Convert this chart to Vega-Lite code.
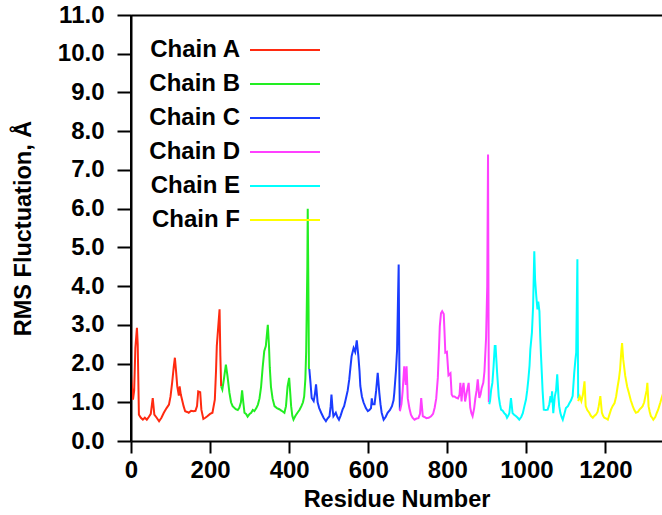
{
  "$schema": "https://vega.github.io/schema/vega-lite/v6.json",
  "autosize": {"type": "none"},
  "padding": {"left": 131, "top": 15, "right": 0, "bottom": 74},
  "width": 531,
  "height": 426,
  "background": "white",
  "config": {
    "view": {"stroke": null},
    "axis": {
      "grid": false,
      "domainColor": "black",
      "domainWidth": 2,
      "tickColor": "black",
      "tickWidth": 2,
      "labelFont": "Liberation Sans",
      "labelFontWeight": "bold",
      "labelFontSize": 24,
      "labelColor": "black",
      "labelOverlap": false,
      "titleFont": "Liberation Sans",
      "titleFontWeight": "bold",
      "titleFontSize": 23.5,
      "titleColor": "black"
    },
    "legend": {
      "labelFont": "Liberation Sans",
      "labelFontWeight": "bold",
      "labelFontSize": 24,
      "labelColor": "black"
    }
  },
  "resolve": {"axis": {"x": "independent"}},
  "data": {
    "values": [
      {"chain":"Chain A","res":0,"rmsf":1.72},{"chain":"Chain A","res":5,"rmsf":1.07},{"chain":"Chain A","res":8,"rmsf":1.3},{"chain":"Chain A","res":11,"rmsf":2.4},{"chain":"Chain A","res":15,"rmsf":2.92},{"chain":"Chain A","res":17,"rmsf":2.5},{"chain":"Chain A","res":20,"rmsf":0.68},{"chain":"Chain A","res":25,"rmsf":0.6},{"chain":"Chain A","res":30,"rmsf":0.55},{"chain":"Chain A","res":35,"rmsf":0.6},{"chain":"Chain A","res":40,"rmsf":0.55},{"chain":"Chain A","res":45,"rmsf":0.62},{"chain":"Chain A","res":50,"rmsf":0.7},{"chain":"Chain A","res":55,"rmsf":1.11},{"chain":"Chain A","res":59,"rmsf":0.68},{"chain":"Chain A","res":65,"rmsf":0.6},{"chain":"Chain A","res":71,"rmsf":0.51},{"chain":"Chain A","res":77,"rmsf":0.6},{"chain":"Chain A","res":83,"rmsf":0.73},{"chain":"Chain A","res":90,"rmsf":0.85},{"chain":"Chain A","res":96,"rmsf":0.94},{"chain":"Chain A","res":100,"rmsf":1.15},{"chain":"Chain A","res":104,"rmsf":1.5},{"chain":"Chain A","res":108,"rmsf":1.9},{"chain":"Chain A","res":111,"rmsf":2.15},{"chain":"Chain A","res":114,"rmsf":1.8},{"chain":"Chain A","res":117,"rmsf":1.41},{"chain":"Chain A","res":121,"rmsf":1.17},{"chain":"Chain A","res":123,"rmsf":1.41},{"chain":"Chain A","res":126,"rmsf":1.2},{"chain":"Chain A","res":129,"rmsf":1.07},{"chain":"Chain A","res":133,"rmsf":0.9},{"chain":"Chain A","res":137,"rmsf":0.77},{"chain":"Chain A","res":142,"rmsf":0.75},{"chain":"Chain A","res":146,"rmsf":0.73},{"chain":"Chain A","res":152,"rmsf":0.78},{"chain":"Chain A","res":158,"rmsf":0.77},{"chain":"Chain A","res":163,"rmsf":0.78},{"chain":"Chain A","res":167,"rmsf":0.9},{"chain":"Chain A","res":170,"rmsf":1.28},{"chain":"Chain A","res":175,"rmsf":1.26},{"chain":"Chain A","res":178,"rmsf":0.81},{"chain":"Chain A","res":183,"rmsf":0.57},{"chain":"Chain A","res":188,"rmsf":0.6},{"chain":"Chain A","res":193,"rmsf":0.64},{"chain":"Chain A","res":200,"rmsf":0.7},{"chain":"Chain A","res":206,"rmsf":0.73},{"chain":"Chain A","res":212,"rmsf":1.07},{"chain":"Chain A","res":215,"rmsf":1.8},{"chain":"Chain A","res":217,"rmsf":2.45},{"chain":"Chain A","res":221,"rmsf":3.0},{"chain":"Chain A","res":224,"rmsf":3.4},{"chain":"Chain A","res":226,"rmsf":2.2},{"chain":"Chain A","res":228,"rmsf":1.41},
      {"chain":"Chain B","res":228,"rmsf":1.41},{"chain":"Chain B","res":231,"rmsf":1.33},{"chain":"Chain B","res":235,"rmsf":1.6},{"chain":"Chain B","res":240,"rmsf":1.97},{"chain":"Chain B","res":244,"rmsf":1.68},{"chain":"Chain B","res":249,"rmsf":1.24},{"chain":"Chain B","res":253,"rmsf":1.0},{"chain":"Chain B","res":257,"rmsf":0.9},{"chain":"Chain B","res":265,"rmsf":0.82},{"chain":"Chain B","res":270,"rmsf":0.8},{"chain":"Chain B","res":274,"rmsf":0.86},{"chain":"Chain B","res":278,"rmsf":1.0},{"chain":"Chain B","res":281,"rmsf":1.31},{"chain":"Chain B","res":284,"rmsf":1.0},{"chain":"Chain B","res":287,"rmsf":0.73},{"chain":"Chain B","res":291,"rmsf":0.7},{"chain":"Chain B","res":295,"rmsf":0.63},{"chain":"Chain B","res":300,"rmsf":0.7},{"chain":"Chain B","res":304,"rmsf":0.73},{"chain":"Chain B","res":308,"rmsf":0.8},{"chain":"Chain B","res":312,"rmsf":0.77},{"chain":"Chain B","res":317,"rmsf":0.85},{"chain":"Chain B","res":321,"rmsf":0.94},{"chain":"Chain B","res":325,"rmsf":1.1},{"chain":"Chain B","res":329,"rmsf":1.4},{"chain":"Chain B","res":333,"rmsf":1.9},{"chain":"Chain B","res":337,"rmsf":2.32},{"chain":"Chain B","res":341,"rmsf":2.45},{"chain":"Chain B","res":346,"rmsf":3.0},{"chain":"Chain B","res":349,"rmsf":2.45},{"chain":"Chain B","res":351,"rmsf":1.9},{"chain":"Chain B","res":354,"rmsf":1.4},{"chain":"Chain B","res":358,"rmsf":1.1},{"chain":"Chain B","res":363,"rmsf":0.9},{"chain":"Chain B","res":369,"rmsf":0.85},{"chain":"Chain B","res":375,"rmsf":0.82},{"chain":"Chain B","res":381,"rmsf":0.78},{"chain":"Chain B","res":388,"rmsf":0.73},{"chain":"Chain B","res":392,"rmsf":0.9},{"chain":"Chain B","res":396,"rmsf":1.41},{"chain":"Chain B","res":400,"rmsf":1.63},{"chain":"Chain B","res":403,"rmsf":1.2},{"chain":"Chain B","res":405,"rmsf":0.9},{"chain":"Chain B","res":408,"rmsf":0.65},{"chain":"Chain B","res":411,"rmsf":0.55},{"chain":"Chain B","res":416,"rmsf":0.65},{"chain":"Chain B","res":421,"rmsf":0.73},{"chain":"Chain B","res":426,"rmsf":0.8},{"chain":"Chain B","res":431,"rmsf":0.9},{"chain":"Chain B","res":435,"rmsf":1.0},{"chain":"Chain B","res":438,"rmsf":1.15},{"chain":"Chain B","res":441,"rmsf":1.6},{"chain":"Chain B","res":443,"rmsf":2.3},{"chain":"Chain B","res":446,"rmsf":4.5},{"chain":"Chain B","res":447,"rmsf":6.0},{"chain":"Chain B","res":449,"rmsf":3.5},{"chain":"Chain B","res":450,"rmsf":1.86},
      {"chain":"Chain C","res":451,"rmsf":1.86},{"chain":"Chain C","res":454,"rmsf":1.5},{"chain":"Chain C","res":457,"rmsf":1.11},{"chain":"Chain C","res":462,"rmsf":1.03},{"chain":"Chain C","res":465,"rmsf":1.2},{"chain":"Chain C","res":468,"rmsf":1.46},{"chain":"Chain C","res":472,"rmsf":1.0},{"chain":"Chain C","res":476,"rmsf":0.85},{"chain":"Chain C","res":481,"rmsf":0.73},{"chain":"Chain C","res":487,"rmsf":0.6},{"chain":"Chain C","res":493,"rmsf":0.51},{"chain":"Chain C","res":497,"rmsf":0.58},{"chain":"Chain C","res":502,"rmsf":0.64},{"chain":"Chain C","res":505,"rmsf":0.9},{"chain":"Chain C","res":507,"rmsf":1.2},{"chain":"Chain C","res":510,"rmsf":0.8},{"chain":"Chain C","res":512,"rmsf":0.64},{"chain":"Chain C","res":518,"rmsf":0.73},{"chain":"Chain C","res":522,"rmsf":0.62},{"chain":"Chain C","res":526,"rmsf":0.55},{"chain":"Chain C","res":530,"rmsf":0.65},{"chain":"Chain C","res":535,"rmsf":0.81},{"chain":"Chain C","res":539,"rmsf":0.9},{"chain":"Chain C","res":543,"rmsf":1.07},{"chain":"Chain C","res":548,"rmsf":1.3},{"chain":"Chain C","res":552,"rmsf":1.59},{"chain":"Chain C","res":555,"rmsf":1.9},{"chain":"Chain C","res":558,"rmsf":2.19},{"chain":"Chain C","res":563,"rmsf":2.4},{"chain":"Chain C","res":567,"rmsf":2.3},{"chain":"Chain C","res":571,"rmsf":2.6},{"chain":"Chain C","res":575,"rmsf":2.2},{"chain":"Chain C","res":578,"rmsf":1.8},{"chain":"Chain C","res":580,"rmsf":1.42},{"chain":"Chain C","res":584,"rmsf":1.15},{"chain":"Chain C","res":588,"rmsf":1.0},{"chain":"Chain C","res":594,"rmsf":0.85},{"chain":"Chain C","res":599,"rmsf":0.77},{"chain":"Chain C","res":603,"rmsf":0.8},{"chain":"Chain C","res":607,"rmsf":0.85},{"chain":"Chain C","res":609,"rmsf":1.1},{"chain":"Chain C","res":611,"rmsf":0.95},{"chain":"Chain C","res":616,"rmsf":0.95},{"chain":"Chain C","res":620,"rmsf":1.3},{"chain":"Chain C","res":624,"rmsf":1.76},{"chain":"Chain C","res":628,"rmsf":1.25},{"chain":"Chain C","res":631,"rmsf":0.95},{"chain":"Chain C","res":634,"rmsf":0.73},{"chain":"Chain C","res":639,"rmsf":0.55},{"chain":"Chain C","res":644,"rmsf":0.62},{"chain":"Chain C","res":649,"rmsf":0.73},{"chain":"Chain C","res":655,"rmsf":0.8},{"chain":"Chain C","res":660,"rmsf":0.9},{"chain":"Chain C","res":664,"rmsf":1.05},{"chain":"Chain C","res":666,"rmsf":1.25},{"chain":"Chain C","res":670,"rmsf":1.8},{"chain":"Chain C","res":673,"rmsf":2.36},{"chain":"Chain C","res":675,"rmsf":3.5},{"chain":"Chain C","res":677,"rmsf":4.56},{"chain":"Chain C","res":679,"rmsf":1.5},{"chain":"Chain C","res":680,"rmsf":0.8},
      {"chain":"Chain D","res":680,"rmsf":0.77},{"chain":"Chain D","res":684,"rmsf":0.95},{"chain":"Chain D","res":687,"rmsf":1.28},{"chain":"Chain D","res":691,"rmsf":1.93},{"chain":"Chain D","res":695,"rmsf":1.45},{"chain":"Chain D","res":697,"rmsf":1.93},{"chain":"Chain D","res":700,"rmsf":1.1},{"chain":"Chain D","res":704,"rmsf":0.85},{"chain":"Chain D","res":708,"rmsf":0.68},{"chain":"Chain D","res":712,"rmsf":0.6},{"chain":"Chain D","res":717,"rmsf":0.55},{"chain":"Chain D","res":722,"rmsf":0.58},{"chain":"Chain D","res":727,"rmsf":0.59},{"chain":"Chain D","res":731,"rmsf":0.7},{"chain":"Chain D","res":734,"rmsf":1.11},{"chain":"Chain D","res":738,"rmsf":0.64},{"chain":"Chain D","res":742,"rmsf":0.62},{"chain":"Chain D","res":747,"rmsf":0.59},{"chain":"Chain D","res":753,"rmsf":0.6},{"chain":"Chain D","res":759,"rmsf":0.64},{"chain":"Chain D","res":764,"rmsf":0.7},{"chain":"Chain D","res":768,"rmsf":0.86},{"chain":"Chain D","res":772,"rmsf":1.1},{"chain":"Chain D","res":776,"rmsf":1.63},{"chain":"Chain D","res":779,"rmsf":2.4},{"chain":"Chain D","res":781,"rmsf":2.96},{"chain":"Chain D","res":784,"rmsf":3.3},{"chain":"Chain D","res":787,"rmsf":3.35},{"chain":"Chain D","res":791,"rmsf":3.28},{"chain":"Chain D","res":793,"rmsf":2.8},{"chain":"Chain D","res":795,"rmsf":2.28},{"chain":"Chain D","res":799,"rmsf":2.3},{"chain":"Chain D","res":803,"rmsf":1.7},{"chain":"Chain D","res":808,"rmsf":1.75},{"chain":"Chain D","res":811,"rmsf":1.2},{"chain":"Chain D","res":814,"rmsf":1.15},{"chain":"Chain D","res":818,"rmsf":1.15},{"chain":"Chain D","res":822,"rmsf":1.12},{"chain":"Chain D","res":827,"rmsf":1.1},{"chain":"Chain D","res":831,"rmsf":1.2},{"chain":"Chain D","res":833,"rmsf":1.5},{"chain":"Chain D","res":836,"rmsf":1.02},{"chain":"Chain D","res":838,"rmsf":1.3},{"chain":"Chain D","res":841,"rmsf":1.5},{"chain":"Chain D","res":845,"rmsf":1.02},{"chain":"Chain D","res":850,"rmsf":1.3},{"chain":"Chain D","res":854,"rmsf":1.5},{"chain":"Chain D","res":858,"rmsf":0.86},{"chain":"Chain D","res":861,"rmsf":0.72},{"chain":"Chain D","res":864,"rmsf":0.64},{"chain":"Chain D","res":868,"rmsf":0.85},{"chain":"Chain D","res":871,"rmsf":1.11},{"chain":"Chain D","res":874,"rmsf":1.3},{"chain":"Chain D","res":877,"rmsf":1.59},{"chain":"Chain D","res":881,"rmsf":1.11},{"chain":"Chain D","res":884,"rmsf":1.2},{"chain":"Chain D","res":887,"rmsf":1.37},{"chain":"Chain D","res":891,"rmsf":1.5},{"chain":"Chain D","res":894,"rmsf":1.8},{"chain":"Chain D","res":898,"rmsf":2.65},{"chain":"Chain D","res":901,"rmsf":4.0},{"chain":"Chain D","res":903,"rmsf":7.4},{"chain":"Chain D","res":905,"rmsf":1.0},
      {"chain":"Chain E","res":906,"rmsf":0.95},{"chain":"Chain E","res":908,"rmsf":1.03},{"chain":"Chain E","res":911,"rmsf":1.33},{"chain":"Chain E","res":914,"rmsf":1.5},{"chain":"Chain E","res":917,"rmsf":1.93},{"chain":"Chain E","res":920,"rmsf":2.45},{"chain":"Chain E","res":922,"rmsf":2.45},{"chain":"Chain E","res":926,"rmsf":1.76},{"chain":"Chain E","res":930,"rmsf":1.16},{"chain":"Chain E","res":933,"rmsf":0.95},{"chain":"Chain E","res":936,"rmsf":0.81},{"chain":"Chain E","res":940,"rmsf":0.78},{"chain":"Chain E","res":944,"rmsf":0.72},{"chain":"Chain E","res":948,"rmsf":0.68},{"chain":"Chain E","res":951,"rmsf":0.6},{"chain":"Chain E","res":954,"rmsf":0.65},{"chain":"Chain E","res":957,"rmsf":0.72},{"chain":"Chain E","res":961,"rmsf":1.11},{"chain":"Chain E","res":965,"rmsf":0.72},{"chain":"Chain E","res":969,"rmsf":0.68},{"chain":"Chain E","res":974,"rmsf":0.64},{"chain":"Chain E","res":978,"rmsf":0.6},{"chain":"Chain E","res":982,"rmsf":0.55},{"chain":"Chain E","res":987,"rmsf":0.62},{"chain":"Chain E","res":991,"rmsf":0.72},{"chain":"Chain E","res":995,"rmsf":0.9},{"chain":"Chain E","res":999,"rmsf":1.07},{"chain":"Chain E","res":1002,"rmsf":1.3},{"chain":"Chain E","res":1005,"rmsf":1.59},{"chain":"Chain E","res":1008,"rmsf":1.95},{"chain":"Chain E","res":1010,"rmsf":2.36},{"chain":"Chain E","res":1014,"rmsf":2.8},{"chain":"Chain E","res":1017,"rmsf":3.48},{"chain":"Chain E","res":1020,"rmsf":4.9},{"chain":"Chain E","res":1022,"rmsf":4.17},{"chain":"Chain E","res":1025,"rmsf":3.74},{"chain":"Chain E","res":1028,"rmsf":3.4},{"chain":"Chain E","res":1030,"rmsf":3.6},{"chain":"Chain E","res":1033,"rmsf":3.35},{"chain":"Chain E","res":1035,"rmsf":2.7},{"chain":"Chain E","res":1037,"rmsf":2.2},{"chain":"Chain E","res":1039,"rmsf":1.76},{"chain":"Chain E","res":1041,"rmsf":1.3},{"chain":"Chain E","res":1044,"rmsf":0.81},{"chain":"Chain E","res":1049,"rmsf":0.8},{"chain":"Chain E","res":1054,"rmsf":0.81},{"chain":"Chain E","res":1058,"rmsf":0.95},{"chain":"Chain E","res":1061,"rmsf":1.16},{"chain":"Chain E","res":1063,"rmsf":1.0},{"chain":"Chain E","res":1065,"rmsf":1.28},{"chain":"Chain E","res":1068,"rmsf":0.72},{"chain":"Chain E","res":1072,"rmsf":1.16},{"chain":"Chain E","res":1075,"rmsf":1.3},{"chain":"Chain E","res":1078,"rmsf":1.72},{"chain":"Chain E","res":1081,"rmsf":1.16},{"chain":"Chain E","res":1083,"rmsf":0.9},{"chain":"Chain E","res":1086,"rmsf":0.72},{"chain":"Chain E","res":1089,"rmsf":0.62},{"chain":"Chain E","res":1092,"rmsf":0.55},{"chain":"Chain E","res":1096,"rmsf":0.7},{"chain":"Chain E","res":1100,"rmsf":0.85},{"chain":"Chain E","res":1105,"rmsf":0.9},{"chain":"Chain E","res":1109,"rmsf":0.98},{"chain":"Chain E","res":1113,"rmsf":1.05},{"chain":"Chain E","res":1117,"rmsf":1.16},{"chain":"Chain E","res":1121,"rmsf":1.76},{"chain":"Chain E","res":1124,"rmsf":2.1},{"chain":"Chain E","res":1126,"rmsf":2.28},{"chain":"Chain E","res":1129,"rmsf":4.69},{"chain":"Chain E","res":1131,"rmsf":1.1},
      {"chain":"Chain F","res":1131,"rmsf":1.03},{"chain":"Chain F","res":1135,"rmsf":1.15},{"chain":"Chain F","res":1139,"rmsf":1.03},{"chain":"Chain F","res":1143,"rmsf":1.2},{"chain":"Chain F","res":1147,"rmsf":1.54},{"chain":"Chain F","res":1150,"rmsf":0.9},{"chain":"Chain F","res":1154,"rmsf":0.8},{"chain":"Chain F","res":1159,"rmsf":0.73},{"chain":"Chain F","res":1163,"rmsf":0.65},{"chain":"Chain F","res":1168,"rmsf":0.6},{"chain":"Chain F","res":1172,"rmsf":0.65},{"chain":"Chain F","res":1176,"rmsf":0.68},{"chain":"Chain F","res":1180,"rmsf":0.75},{"chain":"Chain F","res":1183,"rmsf":0.9},{"chain":"Chain F","res":1187,"rmsf":1.16},{"chain":"Chain F","res":1191,"rmsf":0.73},{"chain":"Chain F","res":1194,"rmsf":0.65},{"chain":"Chain F","res":1197,"rmsf":0.6},{"chain":"Chain F","res":1202,"rmsf":0.58},{"chain":"Chain F","res":1206,"rmsf":0.55},{"chain":"Chain F","res":1210,"rmsf":0.68},{"chain":"Chain F","res":1214,"rmsf":0.81},{"chain":"Chain F","res":1218,"rmsf":0.9},{"chain":"Chain F","res":1223,"rmsf":0.98},{"chain":"Chain F","res":1227,"rmsf":1.15},{"chain":"Chain F","res":1231,"rmsf":1.42},{"chain":"Chain F","res":1234,"rmsf":1.6},{"chain":"Chain F","res":1237,"rmsf":1.85},{"chain":"Chain F","res":1240,"rmsf":2.3},{"chain":"Chain F","res":1242,"rmsf":2.53},{"chain":"Chain F","res":1245,"rmsf":2.1},{"chain":"Chain F","res":1248,"rmsf":1.85},{"chain":"Chain F","res":1250,"rmsf":1.68},{"chain":"Chain F","res":1255,"rmsf":1.4},{"chain":"Chain F","res":1259,"rmsf":1.25},{"chain":"Chain F","res":1264,"rmsf":1.05},{"chain":"Chain F","res":1269,"rmsf":0.9},{"chain":"Chain F","res":1273,"rmsf":0.8},{"chain":"Chain F","res":1277,"rmsf":0.73},{"chain":"Chain F","res":1282,"rmsf":0.75},{"chain":"Chain F","res":1286,"rmsf":0.81},{"chain":"Chain F","res":1290,"rmsf":0.85},{"chain":"Chain F","res":1294,"rmsf":0.9},{"chain":"Chain F","res":1298,"rmsf":1.0},{"chain":"Chain F","res":1301,"rmsf":1.16},{"chain":"Chain F","res":1304,"rmsf":1.3},{"chain":"Chain F","res":1306,"rmsf":1.5},{"chain":"Chain F","res":1309,"rmsf":0.9},{"chain":"Chain F","res":1312,"rmsf":0.75},{"chain":"Chain F","res":1315,"rmsf":0.64},{"chain":"Chain F","res":1318,"rmsf":0.6},{"chain":"Chain F","res":1321,"rmsf":0.55},{"chain":"Chain F","res":1326,"rmsf":0.62},{"chain":"Chain F","res":1330,"rmsf":0.73},{"chain":"Chain F","res":1333,"rmsf":0.8},{"chain":"Chain F","res":1336,"rmsf":0.9},{"chain":"Chain F","res":1339,"rmsf":1.0},{"chain":"Chain F","res":1342,"rmsf":1.11},{"chain":"Chain F","res":1348,"rmsf":1.3}
    ]
  },
  "layer": [
    {
      "mark": {"type": "line", "strokeWidth": 2, "clip": true},
      "encoding": {
        "x": {
          "field": "res", "type": "quantitative",
          "scale": {"domain": [0, 1343], "nice": false, "zero": false},
          "axis": {
            "title": "Residue Number",
            "values": [0, 200, 400, 600, 800, 1000, 1200],
            "format": "d",
            "tickSize": 12,
            "labelPadding": 5,
            "labelFlush": false,
            "titlePadding": 5
          }
        },
        "y": {
          "field": "rmsf", "type": "quantitative",
          "scale": {"domain": [0, 11], "nice": false},
          "axis": {
            "title": "RMS Fluctuation, Å",
            "values": [0, 1, 2, 3, 4, 5, 6, 7, 8, 9, 10, 11],
            "format": ".1f",
            "tickSize": 14,
            "labelPadding": 13,
            "labelFlush": false,
            "labelOverlap": false,
            "titlePadding": 22
          }
        },
        "color": {
          "field": "chain", "type": "nominal",
          "scale": {
            "domain": ["Chain A", "Chain B", "Chain C", "Chain D", "Chain E", "Chain F"],
            "range": ["#ff2a10", "#22ee22", "#1a3cff", "#ff40ff", "#00ffff", "#ffff00"]
          },
          "legend": {
            "title": null,
            "orient": "none",
            "legendX": 142,
            "legendY": 23,
            "symbolType": "M-5,0H5",
            "symbolSize": 196,
            "symbolStrokeWidth": 2,
            "rowPadding": 10,
            "labelAlign": "right",
            "labelOffset": -57
          }
        }
      }
    },
    {
      "mark": {"type": "rule", "color": "black", "strokeWidth": 2},
      "encoding": {
        "x": {"datum": 0, "axis": {"orient": "top", "labels": false, "ticks": false, "title": null, "domain": true, "domainWidth": 2, "domainColor": "black"}}
      }
    }
  ]
}
